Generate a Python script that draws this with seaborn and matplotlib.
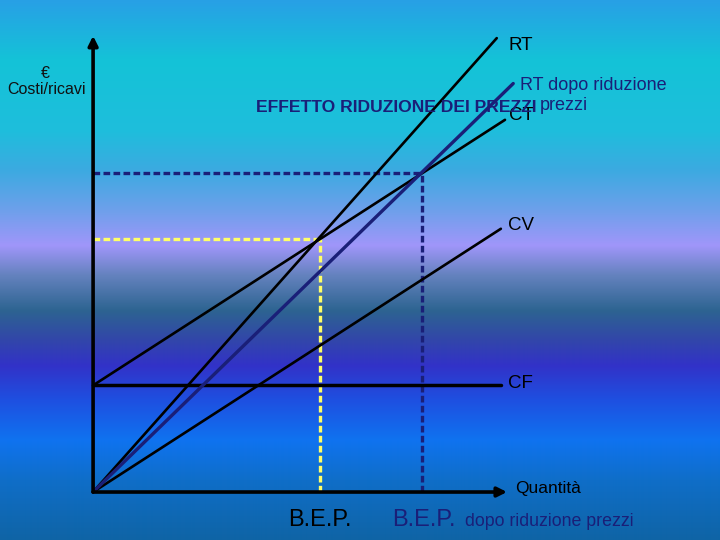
import matplotlib
matplotlib.use("Agg")
import matplotlib.pyplot as plt
import seaborn as sns
import numpy as np

# --- data (quantity on x, euro on y, axis ends at 100) ---
rt_q = [0, 98]
rt_v = [0, 100]
rt2_q = [0, 102]          # RT dopo riduzione prezzi
rt2_v = [0, 90]
cf_q = [0, 99]
cf_v = [23.5, 23.5]
ct_q = [0, 100]
ct_v = [23.5, 82]
cv_q = [0, 99]
cv_v = [0, 58]
bep_q, bep_v = 55.1, 55.7     # break-even point
bep2_q, bep2_v = 79.9, 70.3   # break-even after price cut

# background gradient stops (pixel row, rgb)
bg_rows = [0, 60, 130, 170, 210, 245, 275, 310, 340, 365, 400, 440, 480, 540]
bg_cols = [(40, 160, 230), (20, 195, 215), (30, 190, 220), (60, 170, 225),
           (110, 160, 235), (160, 150, 250), (100, 130, 190), (45, 100, 145),
           (50, 70, 170), (50, 50, 200), (30, 80, 225), (15, 115, 240),
           (15, 110, 200), (15, 100, 165)]

sns.set_theme(style="white")
plt.rcParams['font.family'] = ['Liberation Sans', 'DejaVu Sans']

NAVY = "#1a1f78"

fig = plt.figure(figsize=(7.2, 5.4), dpi=100)
ax = fig.add_axes([0, 0, 1, 1])
ax.set_xlim(-22.6, 152.2)
ax.set_ylim(-10.57, 108.4)
ax.axis("off")

# background
rows = np.arange(540)
cols = np.array(bg_cols) / 255.0
grad = np.stack([np.interp(rows, bg_rows, cols[:, i]) for i in range(3)], axis=1)
img = np.repeat(grad[:, None, :], 2, axis=1)
ax.imshow(img, extent=(-22.6, 152.2, -10.57, 108.4), aspect="auto", zorder=0)

# dotted guides to the break-even points
ax.plot([0, bep_q], [bep_v, bep_v], color="#ffff66", lw=2.4, ls=(0, (2, 1)), zorder=2)
ax.plot([bep_q, bep_q], [0, bep_v], color="#ffff66", lw=2.4, ls=(0, (2, 1)), zorder=2)
ax.plot([0, bep2_q], [bep2_v, bep2_v], color=NAVY, lw=2.4, ls=(0, (2, 1)), zorder=2)
ax.plot([bep2_q, bep2_q], [0, bep2_v], color=NAVY, lw=2.4, ls=(0, (2, 1)), zorder=2)

# cost / revenue lines
sns.lineplot(x=cf_q, y=cf_v, color="black", lw=2.5, ax=ax, zorder=3)
sns.lineplot(x=cv_q, y=cv_v, color="black", lw=1.9, ax=ax, zorder=3)
sns.lineplot(x=ct_q, y=ct_v, color="black", lw=1.9, ax=ax, zorder=3)
sns.lineplot(x=rt_q, y=rt_v, color="black", lw=1.9, ax=ax, zorder=3)
sns.lineplot(x=rt2_q, y=rt2_v, color=NAVY, lw=2.4, ax=ax, zorder=3)

# axes with arrows
arrow = dict(arrowstyle="-|>", lw=2.6, color="black", mutation_scale=14, shrinkA=0, shrinkB=0)
ax.annotate("", xy=(0, 100.5), xytext=(0, 0), arrowprops=arrow, zorder=4)
ax.annotate("", xy=(100.5, 0), xytext=(0, 0), arrowprops=arrow, zorder=4)


def px(x, y):
    return x / 720, 1 - y / 540


fig.text(*px(45, 73), "€", ha="center", va="center", fontsize=11.5, color="#111")
fig.text(*px(46, 90), "Costi/ricavi", ha="center", va="center", fontsize=11.5, color="#111")
fig.text(*px(508, 45), "RT", ha="left", va="center", fontsize=13.5, color="black")
fig.text(*px(520, 86), "RT dopo riduzione", ha="left", va="center", fontsize=13, color=NAVY)
fig.text(*px(540, 106), "prezzi", ha="left", va="center", fontsize=13, color=NAVY)
fig.text(*px(509, 116), "CT", ha="left", va="center", fontsize=13.5, color="black")
fig.text(*px(396, 108), "EFFETTO RIDUZIONE DEI PREZZI", ha="center", va="center",
         fontsize=12.6, fontweight="bold", color=NAVY)
fig.text(*px(508, 226), "CV", ha="left", va="center", fontsize=13.5, color="black")
fig.text(*px(508, 384), "CF", ha="left", va="center", fontsize=13.5, color="black")
fig.text(*px(515, 489), "Quantità", ha="left", va="center", fontsize=12.5, color="black")
fig.text(*px(320, 520), "B.E.P.", ha="center", va="center", fontsize=17, color="black")
fig.text(*px(392, 520), "B.E.P.", ha="left", va="center", fontsize=17, color=NAVY)
fig.text(*px(465, 522), "dopo riduzione prezzi", ha="left", va="center", fontsize=12.8, color=NAVY)

fig.savefig("out.png", dpi=100)
plt.close(fig)
